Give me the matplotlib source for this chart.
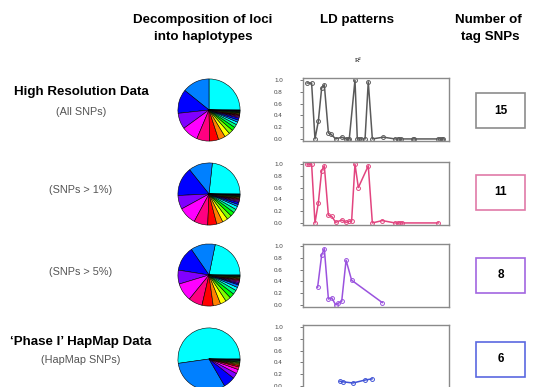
import matplotlib
matplotlib.use("Agg")
import matplotlib.pyplot as plt
import matplotlib.colors as mcolors
from matplotlib.patches import Rectangle

W, H = 538, 387
plt.rcParams['font.family'] = ['Liberation Sans', 'DejaVu Sans']

# ---------------- data ----------------
row_titles = ["High Resolution Data", "", "", "\u2018Phase I\u2019 HapMap Data"]
row_subtitles = ["(All SNPs)", "(SNPs > 1%)", "(SNPs > 5%)", "(HapMap SNPs)"]
tag_snps = [15, 11, 8, 6]

# haplotype frequencies (%) per dataset
hap_all = [25.0, 14.2, 12.5, 8.3, 8.6, 6.7, 4.7, 3.6, 2.8, 2.2, 1.9, 1.7, 1.4, 1.1, 1.1,
           0.56, 0.5, 0.44, 0.42, 0.39, 0.36, 0.33, 0.31, 0.28, 0.25, 0.19, 0.14]
hap_1pct = [23.3, 12.5, 15.0, 7.2, 9.2, 7.2, 4.7, 3.3, 2.8, 2.5, 2.2, 1.9, 1.7, 1.1, 1.1,
            0.6, 0.55, 0.5, 0.45, 0.4, 0.36, 0.33, 0.3, 0.28, 0.25, 0.2, 0.15]
hap_5pct = [21.7, 12.8, 12.8, 7.2, 9.4, 7.2, 5.8, 3.9, 3.1, 2.8, 2.5, 2.2, 1.7, 1.4,
            0.7, 0.65, 0.6, 0.55, 0.5, 0.45, 0.4, 0.38, 0.35, 0.3, 0.25]
hap_hapmap = [52.2, 31.1, 6.1, 2.8, 2.2, 1.4, 0.8, 0.6, 0.5, 0.5, 0.4, 0.4, 0.35, 0.3, 0.25]
hap_sets = [hap_all, hap_1pct, hap_5pct, hap_hapmap]

# LD patterns: SNP position (relative) and R^2
ld_pos_all = [2.9, 5.9, 8.2, 10.5, 12.8, 14.6, 17.4, 19.2, 22.4, 26.5, 29.5, 30.6, 31.7, 35.6,
              37.2, 38.6, 39.5, 42.5, 44.7, 47.5, 55.0, 63.0, 64.8, 66.0, 67.1, 75.1, 76.3,
              92.7, 93.8, 95.0, 96.1]
ld_r2_all = [0.95, 0.95, 0.0, 0.30, 0.87, 0.92, 0.10, 0.08, 0.0, 0.03, 0.0, 0.0, 0.0, 1.0,
             0.0, 0.0, 0.0, 0.0, 0.97, 0.0, 0.03, 0.0, 0.0, 0.0, 0.0, 0.0, 0.0,
             0.0, 0.0, 0.0, 0.0]
ld_pos_1pct = [2.9, 4.3, 5.9, 8.2, 10.5, 12.8, 14.6, 17.4, 19.7, 22.4, 26.5, 29.5, 31.7, 33.3,
               35.6, 37.9, 44.7, 47.5, 54.3, 63.0, 64.8, 66.4, 68.0, 92.7]
ld_r2_1pct = [1.0, 1.0, 1.0, 0.0, 0.34, 0.89, 0.97, 0.13, 0.11, 0.01, 0.05, 0.01, 0.03, 0.03,
              1.0, 0.60, 0.97, 0.0, 0.04, 0.0, 0.0, 0.0, 0.0, 0.0]
ld_pos_5pct = [10.0, 12.8, 14.6, 17.4, 19.7, 22.4, 24.2, 26.5, 29.5, 33.3, 54.3]
ld_r2_5pct = [0.30, 0.85, 0.955, 0.10, 0.12, 0.0, 0.03, 0.06, 0.76, 0.42, 0.04]
ld_pos_hapmap = [25.3, 27.4, 34.2, 42.5, 47.3]
ld_r2_hapmap = [0.08, 0.07, 0.05, 0.10, 0.12]
ld_pos = [ld_pos_all, ld_pos_1pct, ld_pos_5pct, ld_pos_hapmap]
ld_r2 = [ld_r2_all, ld_r2_1pct, ld_r2_5pct, ld_r2_hapmap]

y_ticks = [0.0, 0.2, 0.4, 0.6, 0.8, 1.0]

# ---------------- styles ----------------
line_colors = ['#5a5a5a', '#e2447f', '#9a52de', '#3f52d6']
box_colors = ['#8c8c8c', '#e07aa8', '#a266e0', '#5a68e0']
pie_centers_y = [110, 194, 275, 359]
panel_tops = [78, 162, 244, 325]
box_tops = [93, 175, 258, 342]
title_y = [92, 0, 0, 342]
sub_y = [112, 190, 272, 360]

fig = plt.figure(figsize=(W / 100, H / 100), dpi=100)
fig.patch.set_facecolor('white')


def px_axes(l, t, w, h):
    return fig.add_axes([l / W, 1 - (t + h) / H, w / W, h / H])


def ftext(x, y, s, **kw):
    fig.text(x / W, 1 - y / H, s, **kw)


HFS = 9.6
# headers
ftext(203, 20, "Decomposition of loci", ha='center', va='center', fontsize=HFS, fontweight='bold')
ftext(203, 37, "into haplotypes", ha='center', va='center', fontsize=HFS, fontweight='bold')
ftext(357, 20, "LD patterns", ha='center', va='center', fontsize=HFS, fontweight='bold')
ftext(488, 20, "Number of", ha='center', va='center', fontsize=HFS, fontweight='bold')
ftext(490, 37, "tag SNPs", ha='center', va='center', fontsize=HFS, fontweight='bold')
ftext(358, 61, "R\u00b2", ha='center', va='center', fontsize=5, family=['Liberation Serif', 'DejaVu Serif'])

for i in range(4):
    # row labels
    if row_titles[i]:
        ftext(81, title_y[i], row_titles[i], ha='center', va='center', fontsize=HFS, fontweight='bold')
    ftext(81, sub_y[i], row_subtitles[i], ha='center', va='center', fontsize=7.8, color='#555555')

    # pie
    cy = pie_centers_y[i]
    axp = px_axes(177, cy - 32, 64, 64)
    vals = hap_sets[i]
    cols = [mcolors.hsv_to_rgb(((0.5 + k / 12.0) % 1.0, 1.0, 1.0)) for k in range(len(vals))]
    axp.pie(vals, colors=cols, startangle=0, counterclock=True, radius=1.0,
            wedgeprops=dict(edgecolor='black', linewidth=0.4))
    axp.set_xlim(-1.03, 1.03)
    axp.set_ylim(-1.03, 1.03)
    axp.set_aspect('equal')
    axp.axis('off')

    # LD panel
    axl = px_axes(303, panel_tops[i], 146, 63)
    axl.plot(ld_pos[i], ld_r2[i], color=line_colors[i], lw=1.1, marker='o', ms=2.8,
             mfc='none', mec=line_colors[i], mew=0.7)
    axl.set_xlim(0, 100)
    axl.set_ylim(-0.035, 1.035)
    axl.set_xticks([])
    axl.set_yticks(y_ticks)
    axl.set_yticklabels([f"{t:.1f}" for t in y_ticks])
    axl.tick_params(axis='y', labelsize=4.5, length=2.5, width=0.5, pad=12, colors='#444444')
    for sp in axl.spines.values():
        sp.set_color('#8a8a8a')
        sp.set_linewidth(1.0)

    # tag SNP count box
    ftext(500.5, box_tops[i] + 17.5, str(tag_snps[i]), ha='center', va='center',
          fontsize=8.5, fontweight='bold')
    fig.patches.append(Rectangle((476 / W, 1 - (box_tops[i] + 35) / H), 49 / W, 35 / H,
                                 transform=fig.transFigure, fill=False,
                                 edgecolor=box_colors[i], linewidth=1.2))

fig.savefig("out.png", dpi=100)
